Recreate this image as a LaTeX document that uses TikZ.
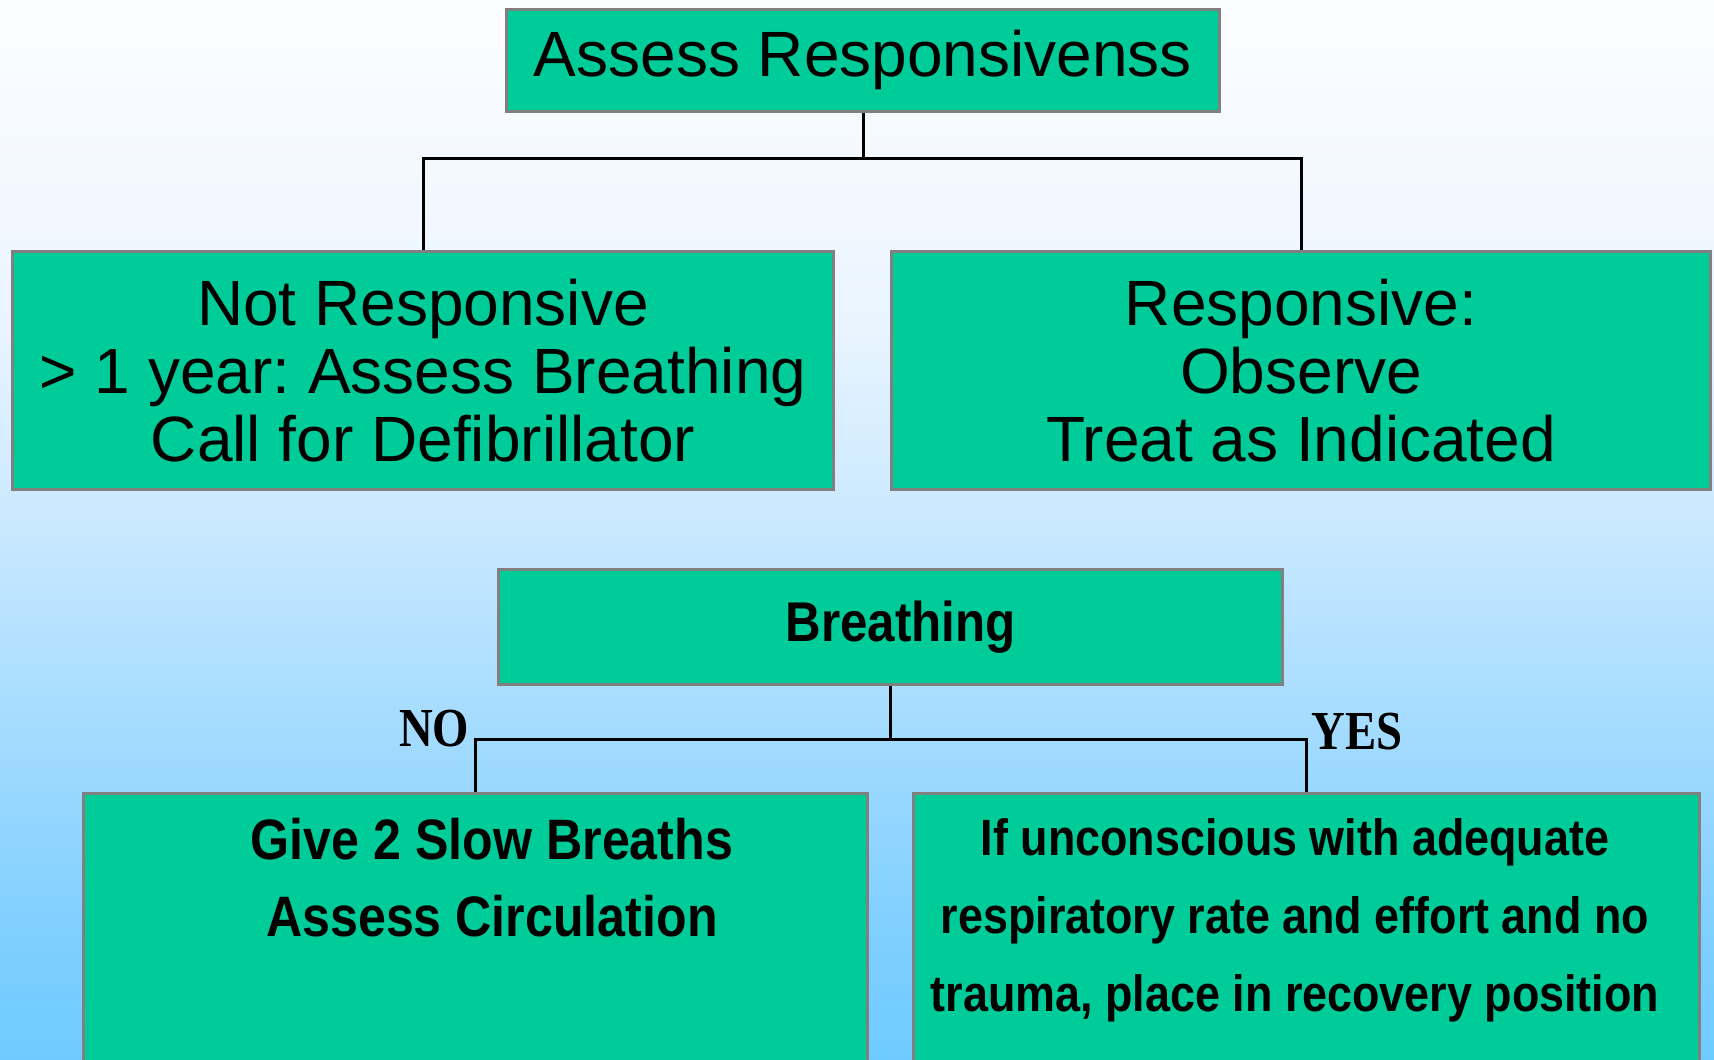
\documentclass[tikz,border=0pt]{standalone}
\usepackage{fontspec}
\setmainfont{Liberation Sans}
\newfontfamily\condbf{Liberation Sans Bold}[FakeStretch=0.88]
\newfontfamily\serifbf{Liberation Serif Bold}[FakeStretch=0.85]
\frenchspacing
\definecolor{boxgreen}{RGB}{0,204,153}
\definecolor{boxedge}{RGB}{128,128,128}
\definecolor{bgA}{RGB}{111,203,255}
\definecolor{bgB}{RGB}{127,207,255}
\definecolor{bgC}{RGB}{200,232,255}
\definecolor{bgD}{RGB}{232,244,255}
\definecolor{bgE}{RGB}{242,248,255}
\definecolor{bgF}{RGB}{252,253,255}
\pgfdeclareverticalshading{bgshade}{100bp}{color(0bp)=(bgA); color(25bp)=(bgA); color(31.1bp)=(bgB); color(50bp)=(bgC); color(59.4bp)=(bgD); color(65.6bp)=(bgE); color(75bp)=(bgF); color(100bp)=(bgF)}
\begin{document}
\begin{tikzpicture}[x=1pt,y=-1pt,
  box/.style={draw=boxedge, line width=3pt, fill=boxgreen, inner sep=0pt, align=center, text=black},
  bigtext/.style={font=\fontsize{64}{68}\selectfont},
  conn/.style={draw=black, line width=3pt},
  answer/.style={font=\serifbf\fontsize{55}{60}\selectfont, inner sep=0pt}]
\useasboundingbox (0,0) rectangle (1714,1060);
\clip (0,0) rectangle (1714,1060);
\fill[shading=bgshade] (0,0) rectangle (1714,1060);

\node[box, bigtext, minimum width=713pt, minimum height=102pt] (assess) at (863,60) {Assess Responsivenss};
\node[box, bigtext, minimum width=821pt, minimum height=238pt] (notresp) at (423,370.5)
  {Not Responsive\\> 1 year: Assess Breathing\\Call for Defibrillator};
\node[box, bigtext, minimum width=819pt, minimum height=238pt] (resp) at (1301,370.5)
  {Responsive:\\Observe\\Treat as Indicated};
\node[box, font=\condbf\fontsize{56}{60}\selectfont, minimum width=784pt, minimum height=115pt] (breath) at (890.5,627) {\hspace*{20pt}Breathing};
\node[box, minimum width=784pt, minimum height=300pt, anchor=north] (nobox) at (475.5,791.5) {};
\node[box, minimum width=786pt, minimum height=300pt, anchor=north] (yesbox) at (1306.5,791.5) {};
\node[inner sep=0pt, align=center, anchor=north, font=\condbf\fontsize{57}{77}\selectfont] (notext) at (492,818)
  {Give 2 Slow Breaths\\Assess Circulation};
\node[inner sep=0pt, align=center, anchor=north, font=\condbf\fontsize{51}{78}\selectfont] (yestext) at (1295,818)
  {If unconscious with adequate\\respiratory rate and effort and no\\trauma, place in recovery position};

\draw[conn] (assess.south) -- ++(0,46) coordinate (j1) -| (notresp.north);
\draw[conn] (j1) -| (resp.north);
\draw[conn] (breath.south) -- ++(0,53) coordinate (j2) -| (nobox.north) coordinate[pos=0.5] (nocorner);
\draw[conn] (j2) -| (yesbox.north) coordinate[pos=0.5] (yescorner);
\node[answer, anchor=base east] (nolabel) at ([xshift=-6pt,yshift=-7pt]nocorner) {NO};
\node[answer, anchor=base west] (yeslabel) at ([xshift=5pt,yshift=-10pt]yescorner) {YES};
\end{tikzpicture}
\end{document}
